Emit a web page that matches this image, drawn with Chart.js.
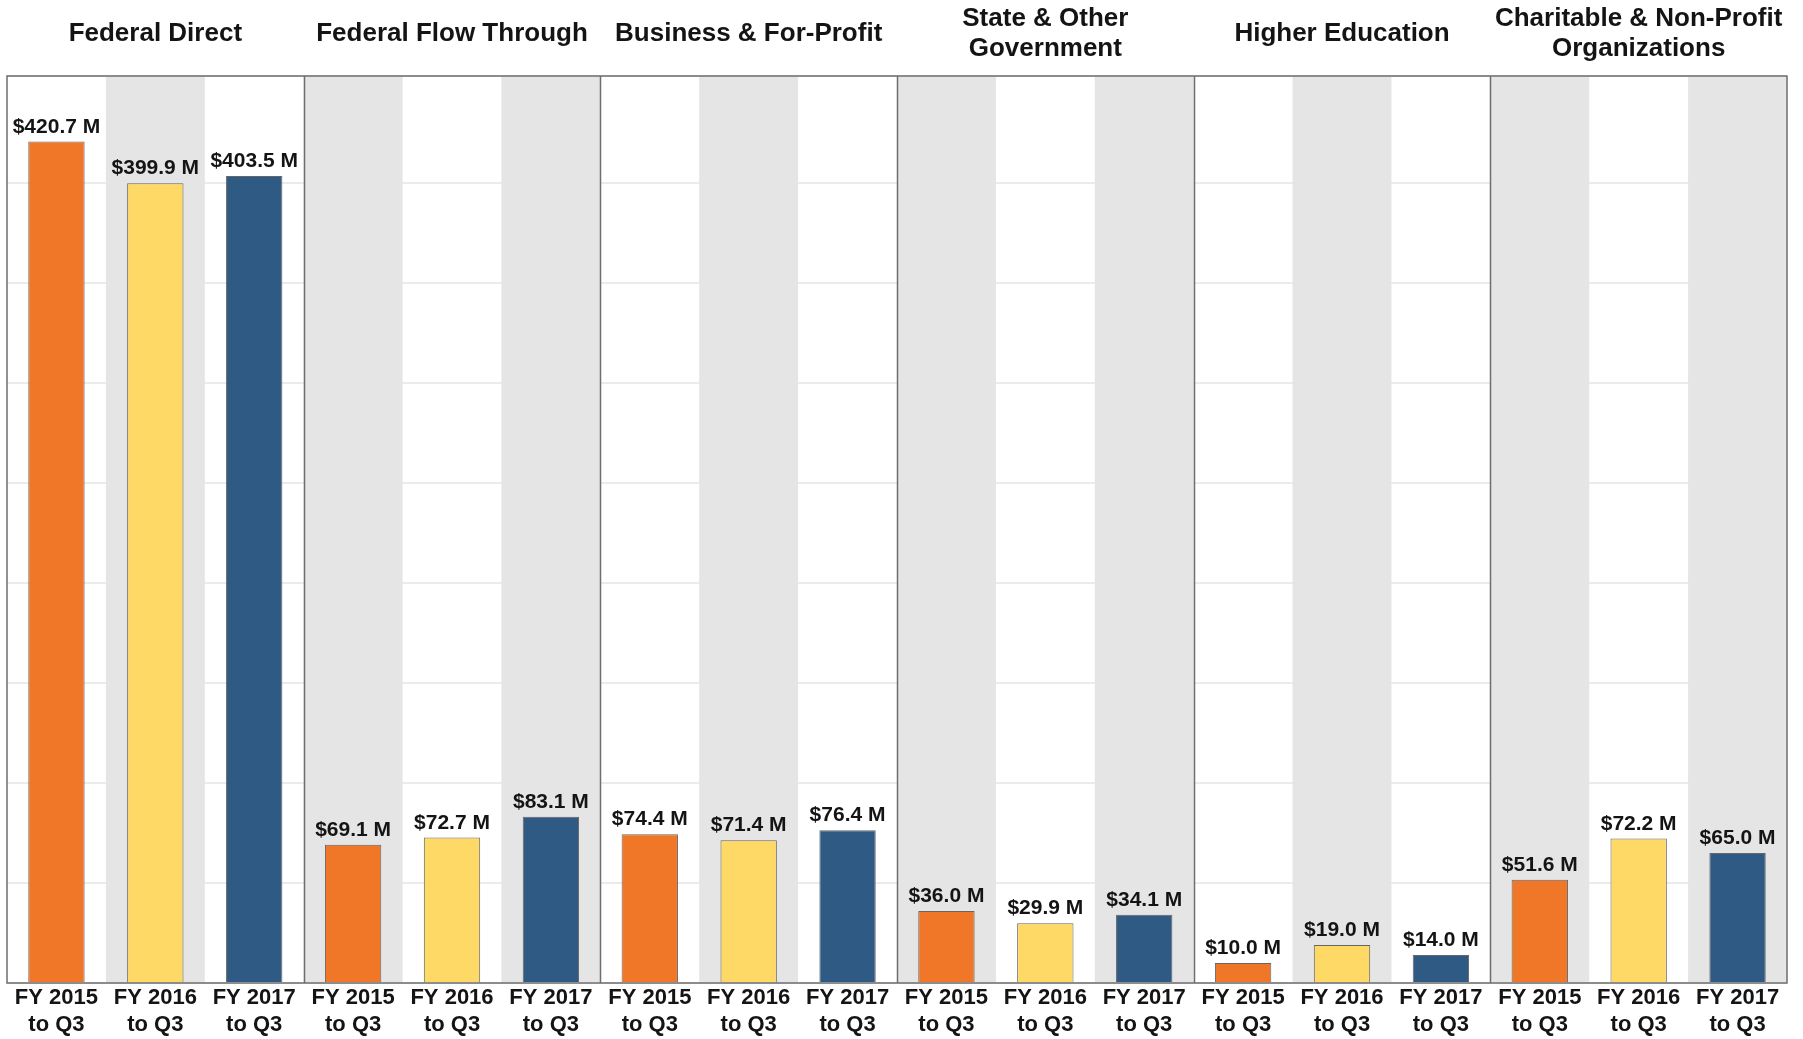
<!DOCTYPE html>
<html>
<head>
<meta charset="utf-8">
<script src="https://cdn.jsdelivr.net/npm/chart.js@4.4.1/dist/chart.umd.min.js"></script>
<style>
  html, body { margin: 0; padding: 0; background: #fff; }
  #wrap { width: 1803px; height: 1039px; position: relative; }
</style>
</head>
<body>
<div id="wrap"><canvas id="bars"></canvas></div>
<script>
const groups = [
  ['Federal Direct'],
  ['Federal Flow Through'],
  ['Business & For-Profit'],
  ['State & Other', 'Government'],
  ['Higher Education'],
  ['Charitable & Non-Profit', 'Organizations'],
];
const years = ['FY 2015', 'FY 2016', 'FY 2017'];
const fy2015 = [420.7, 69.1, 74.4, 36.0, 10.0, 51.6];
const fy2016 = [399.9, 72.7, 71.4, 29.9, 19.0, 72.2];
const fy2017 = [403.5, 83.1, 76.4, 34.1, 14.0, 65.0];
const yearColors = ['#f07728', '#fed966', '#2f5a84'];

// one bar per (group, year), in group order
const labels = [];
const values = [];
const colors = [];
groups.forEach((g, gi) => {
  [fy2015, fy2016, fy2017].forEach((series, yi) => {
    labels.push([years[yi], 'to Q3']);
    values.push(series[gi]);
    colors.push(yearColors[yi]);
  });
});

const FONT = '"Liberation Sans", Arial, sans-serif';

const panels = {
  id: 'panels',
  beforeDatasetsDraw(chart) {
    const { ctx, chartArea: a, scales: { x } } = chart;
    const half = (x.getPixelForValue(1) - x.getPixelForValue(0)) / 2;
    ctx.save();
    ctx.fillStyle = '#e5e5e5';
    for (let i = 1; i < labels.length; i += 2) {
      const cx = x.getPixelForValue(i);
      ctx.fillRect(cx - half, a.top, half * 2, a.bottom - a.top);
    }
    ctx.restore();
  },
  afterDatasetsDraw(chart) {
    const { ctx, chartArea: a, scales: { x } } = chart;
    const half = (x.getPixelForValue(1) - x.getPixelForValue(0)) / 2;
    ctx.save();

    // value labels
    ctx.fillStyle = '#141414';
    ctx.font = 'bold 21px ' + FONT;
    ctx.textAlign = 'center';
    ctx.textBaseline = 'alphabetic';
    chart.getDatasetMeta(0).data.forEach((bar, i) => {
      ctx.fillText('$' + values[i].toFixed(1) + ' M', bar.x, bar.y - 9);
    });

    // panel separators and frame
    ctx.strokeStyle = '#6e6e6e';
    ctx.lineWidth = 1.5;
    for (let g = 1; g < groups.length; g++) {
      const sx = Math.round(x.getPixelForValue(g * 3) - half) + 0.5;
      ctx.beginPath();
      ctx.moveTo(sx, a.top);
      ctx.lineTo(sx, a.bottom);
      ctx.stroke();
    }
    ctx.strokeRect(a.left, a.top, a.right - a.left, a.bottom - a.top);

    // group headers
    ctx.font = 'bold 26px ' + FONT;
    ctx.textBaseline = 'middle';
    groups.forEach((g, gi) => {
      const cx = x.getPixelForValue(gi * 3 + 1);
      if (g.length === 1) {
        ctx.fillText(g[0], cx, 34);
      } else {
        ctx.fillText(g[0], cx, 19);
        ctx.fillText(g[1], cx, 49);
      }
    });
    ctx.restore();
  },
};

new Chart(document.getElementById('bars'), {
  type: 'bar',
  data: {
    labels,
    datasets: [{
      data: values,
      backgroundColor: colors,
      borderColor: '#666666',
      borderWidth: 1,
      categoryPercentage: 1,
      barPercentage: 0.57,
    }],
  },
  options: {
    responsive: true,
    maintainAspectRatio: false,
    animation: false,
    layout: { padding: { left: 7, right: 16, top: 76, bottom: 0 } },
    plugins: { legend: { display: false }, tooltip: { enabled: false } },
    scales: {
      x: {
        grid: { display: false, drawTicks: false, tickLength: 0 },
        border: { display: false },
        ticks: {
          color: '#141414',
          padding: 2,
          maxRotation: 0,
          autoSkip: false,
          font: { family: FONT, size: 22, weight: 'bold', lineHeight: 1.2 },
        },
        afterFit(s) { s.height = 56; },
      },
      y: {
        min: 0,
        max: 453.5,
        ticks: { display: false, stepSize: 50 },
        grid: { color: '#ebebeb', lineWidth: 2, drawTicks: false },
        border: { display: false },
        afterFit(s) { s.width = 0; },
      },
    },
  },
  plugins: [panels],
});
</script>
</body>
</html>
